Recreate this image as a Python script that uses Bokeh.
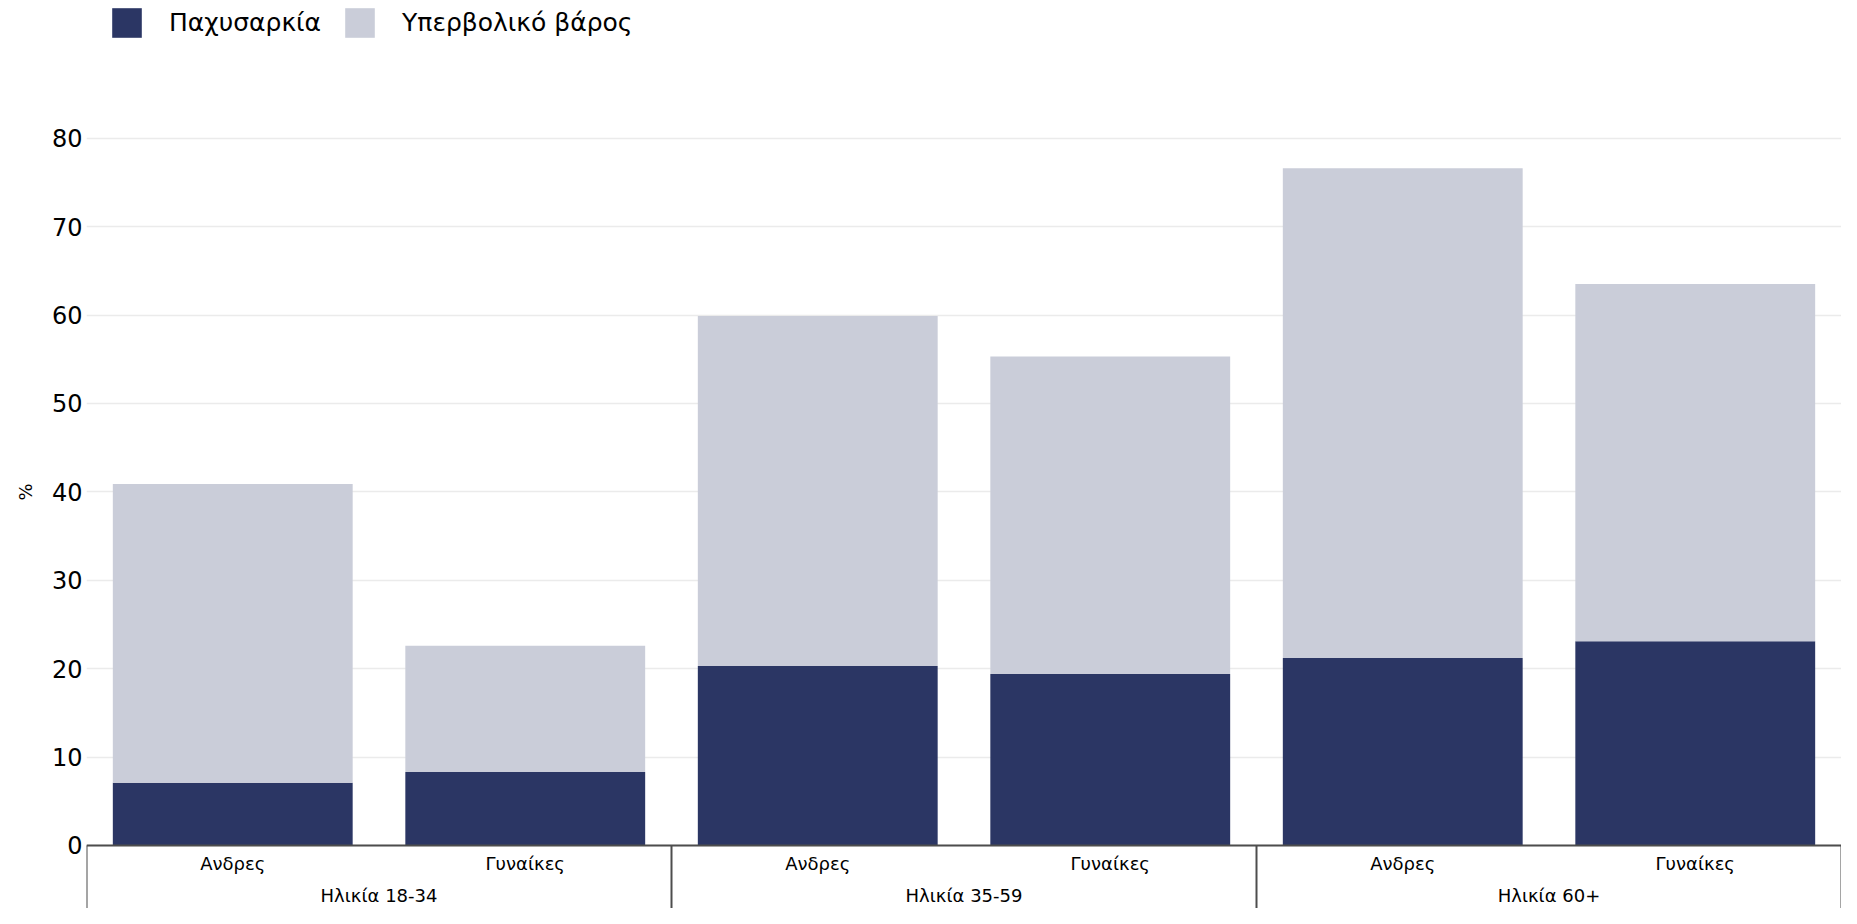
from bokeh.plotting import figure
from bokeh.models import FactorRange, Range1d, FixedTicker, ColumnDataSource, Legend, Title
from bokeh.embed import file_html
from bokeh.resources import INLINE

# ---- data ----
groups = ["Ηλικία 18-34", "Ηλικία 35-59", "Ηλικία 60+"]
sexes = ["Ανδρες", "Γυναίκες"]
series_names = ["Παχυσαρκία", "Υπερβολικό βάρος"]
obesity = [7.1, 8.3, 20.3, 19.4, 21.2, 23.1]
overweight = [33.8, 14.3, 39.6, 35.9, 55.4, 40.4]
y_ticks = [0, 10, 20, 30, 40, 50, 60, 70, 80]
y_label = "%"

colors = ["#2b3664", "#cacdd9"]
FONT = "DejaVu Sans"

factors = [(g, s) for g in groups for s in sexes]
source = ColumnDataSource(data=dict(x=factors, obesity=obesity, overweight=overweight))

Y_START, Y_END = -7.13, 95.58

p = figure(
    width=1841, height=908,
    x_range=FactorRange(*factors, group_padding=0, factor_padding=0, range_padding=0),
    y_range=Range1d(Y_START, Y_END),
    output_backend="svg", toolbar_location=None,
    min_border_left=85, min_border_right=0, min_border_top=0, min_border_bottom=0,
)
p.outline_line_color = None
p.background_fill_color = "white"
p.border_fill_color = "white"

rs = p.vbar_stack(["obesity", "overweight"], x="x", width=0.82, source=source,
                  fill_color=colors, line_color=None)

# separators below the axis (group boundaries and edges)
sep_x = [(g, sexes[0], -0.5) for g in groups] + [(groups[-1], sexes[-1], 0.5)]
p.segment(x0=sep_x, x1=sep_x, y0=[0] * len(sep_x), y1=[Y_START] * len(sep_x),
          line_color="#4d4d4d", line_width=2)

# y axis
yax = p.yaxis[0]
yax.ticker = FixedTicker(ticks=y_ticks)
yax.axis_line_color = None
yax.major_tick_line_color = None
yax.minor_tick_line_color = None
yax.major_tick_out = 0
yax.minor_tick_out = 0
yax.major_label_text_font = FONT
yax.major_label_text_font_size = "24px"
yax.major_label_text_color = "black"
yax.major_label_standoff = 4

# y-axis title "%" (as a side title so it can sit at the reference height)
ytitle = Title(text=y_label, align="left", vertical_align="bottom", offset=408, standoff=25,
               text_font=FONT, text_font_size="18px", text_font_style="normal",
               text_color="black")
p.add_layout(ytitle, "left")

p.ygrid.ticker = FixedTicker(ticks=y_ticks)
p.ygrid.grid_line_color = "#ebebeb"
p.ygrid.grid_line_width = 1.5
p.xgrid.grid_line_color = None

# x axis at y = 0
xax = p.xaxis[0]
xax.fixed_location = 0
xax.axis_line_color = "#4d4d4d"
xax.axis_line_width = 2
xax.major_tick_line_color = None
xax.minor_tick_line_color = None
xax.major_tick_out = 0
xax.major_label_standoff = 8
xax.major_label_text_font = FONT
xax.major_label_text_font_size = "18px"
xax.major_label_text_color = "black"
xax.group_text_font = FONT
xax.group_text_font_size = "18px"
xax.group_text_font_style = "normal"
xax.group_text_color = "black"
xax.separator_line_color = None

# legend (inside the frame, offset in screen pixels from frame bottom-left)
legend = Legend(items=[(series_names[0], [rs[0]]), (series_names[1], [rs[1]])],
                orientation="horizontal", location=(22, 867))
legend.margin = 0
legend.padding = 0
legend.spacing = 20
legend.glyph_width = 37
legend.glyph_height = 37
legend.label_height = 37
legend.label_standoff = 24
legend.label_text_font = FONT
legend.label_text_font_size = "25px"
legend.label_text_color = "black"
legend.background_fill_alpha = 0
legend.border_line_color = None
p.add_layout(legend, "center")

open("out.html", "w").write(file_html(p, INLINE))
